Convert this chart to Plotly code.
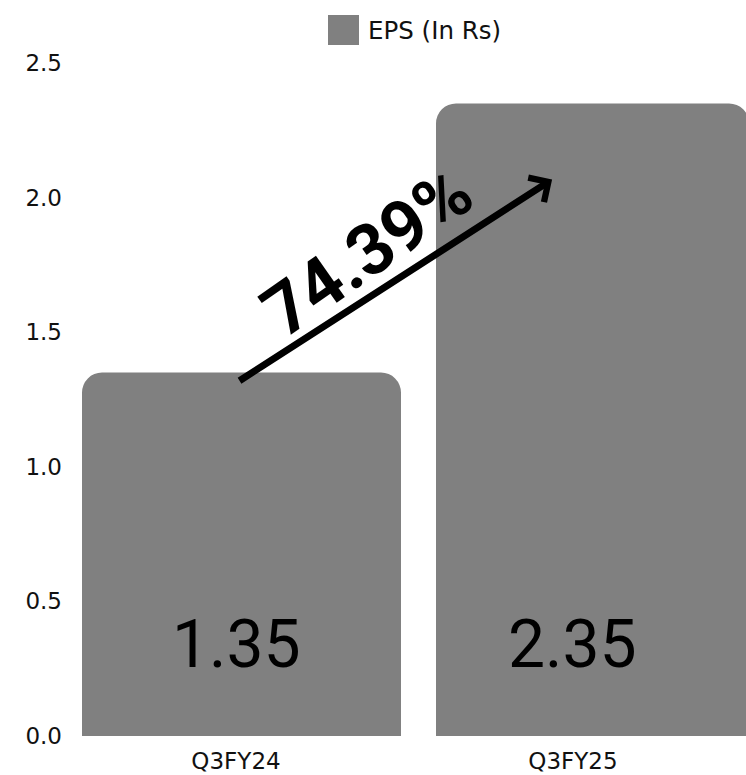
import plotly.graph_objects as go

categories = ["Q3FY24", "Q3FY25"]
eps = [1.35, 2.35]
series_name = "EPS (In Rs)"
growth_label = "74.39%"
y_tick_vals = [0, 0.5, 1.0, 1.5, 2.0, 2.5]
y_tick_text = ["0.0", "0.5", "1.0", "1.5", "2.0", "2.5"]

BAR_COLOR = "#808080"
FONT = "Roboto"
TICK_FONT = "DejaVu Sans"

x_pos = list(range(len(categories)))

fig = go.Figure()
fig.add_trace(go.Bar(
    x=x_pos,
    y=eps,
    name=series_name,
    marker=dict(color=BAR_COLOR, cornerradius=20, line=dict(width=0)),
    offset=[-0.457, -0.4065],
    width=[0.9466, 0.929],
    showlegend=False,
    hoverinfo="skip",
))

annotations = []
# value labels inside bars
for i, v in enumerate(eps):
    annotations.append(dict(
        x=x_pos[i], y=0.34, xref="x", yref="y",
        text=f"{v:.2f}", showarrow=False,
        font=dict(family=FONT, size=66, color="#000000"),
        xanchor="center", yanchor="middle",
    ))

# growth arrow
annotations.append(dict(
    x=0.938, y=2.067, xref="x", yref="y",
    ax=0.006, ay=1.316, axref="x", ayref="y",
    text="", showarrow=True, arrowhead=4, arrowsize=0.8,
    arrowwidth=7, arrowcolor="#000000", standoff=0, startstandoff=0,
))
annotations.append(dict(
    x=0.389, y=1.80, xref="x", yref="y",
    text=f"<b>{growth_label}</b>", showarrow=False, textangle=-35,
    font=dict(family=FONT, size=71, color="#000000"),
    xanchor="center", yanchor="middle",
))

# legend (custom)
annotations.append(dict(
    x=(366 - 70) / 676, y=(736 - 31) / 673, xref="paper", yref="paper",
    text=series_name, showarrow=False,
    font=dict(family=TICK_FONT, size=24.5, color="#111111"),
    xanchor="left", yanchor="middle",
))

shapes = [dict(
    type="rect", xref="paper", yref="paper",
    x0=(328 - 70) / 676, x1=(359 - 70) / 676,
    y0=(736 - 45) / 673, y1=(736 - 15) / 673,
    fillcolor=BAR_COLOR, line=dict(width=0),
)]

fig.update_layout(
    width=746, height=775,
    margin=dict(l=70, r=0, t=63, b=39),
    paper_bgcolor="white", plot_bgcolor="white",
    font=dict(family=FONT, color="#111111"),
    annotations=annotations,
    shapes=shapes,
    xaxis=dict(
        range=[-0.4926, 1.5134],
        tickvals=x_pos, ticktext=categories,
        showgrid=False, zeroline=False, showline=False,
        ticks="", tickfont=dict(family=TICK_FONT, size=23, color="#111111"),
        ticklabelstandoff=9, fixedrange=True,
    ),
    yaxis=dict(
        range=[0, 2.5],
        tickvals=y_tick_vals, ticktext=y_tick_text,
        showgrid=False, zeroline=False, showline=False,
        ticks="", tickfont=dict(family=TICK_FONT, size=23, color="#111111"),
        ticklabelstandoff=7, fixedrange=True,
    ),
)

fig.write_html(
    "out.html",
    config={"displayModeBar": False},
    post_script="document.body.style.margin='0';document.body.style.overflow='hidden';",
)
